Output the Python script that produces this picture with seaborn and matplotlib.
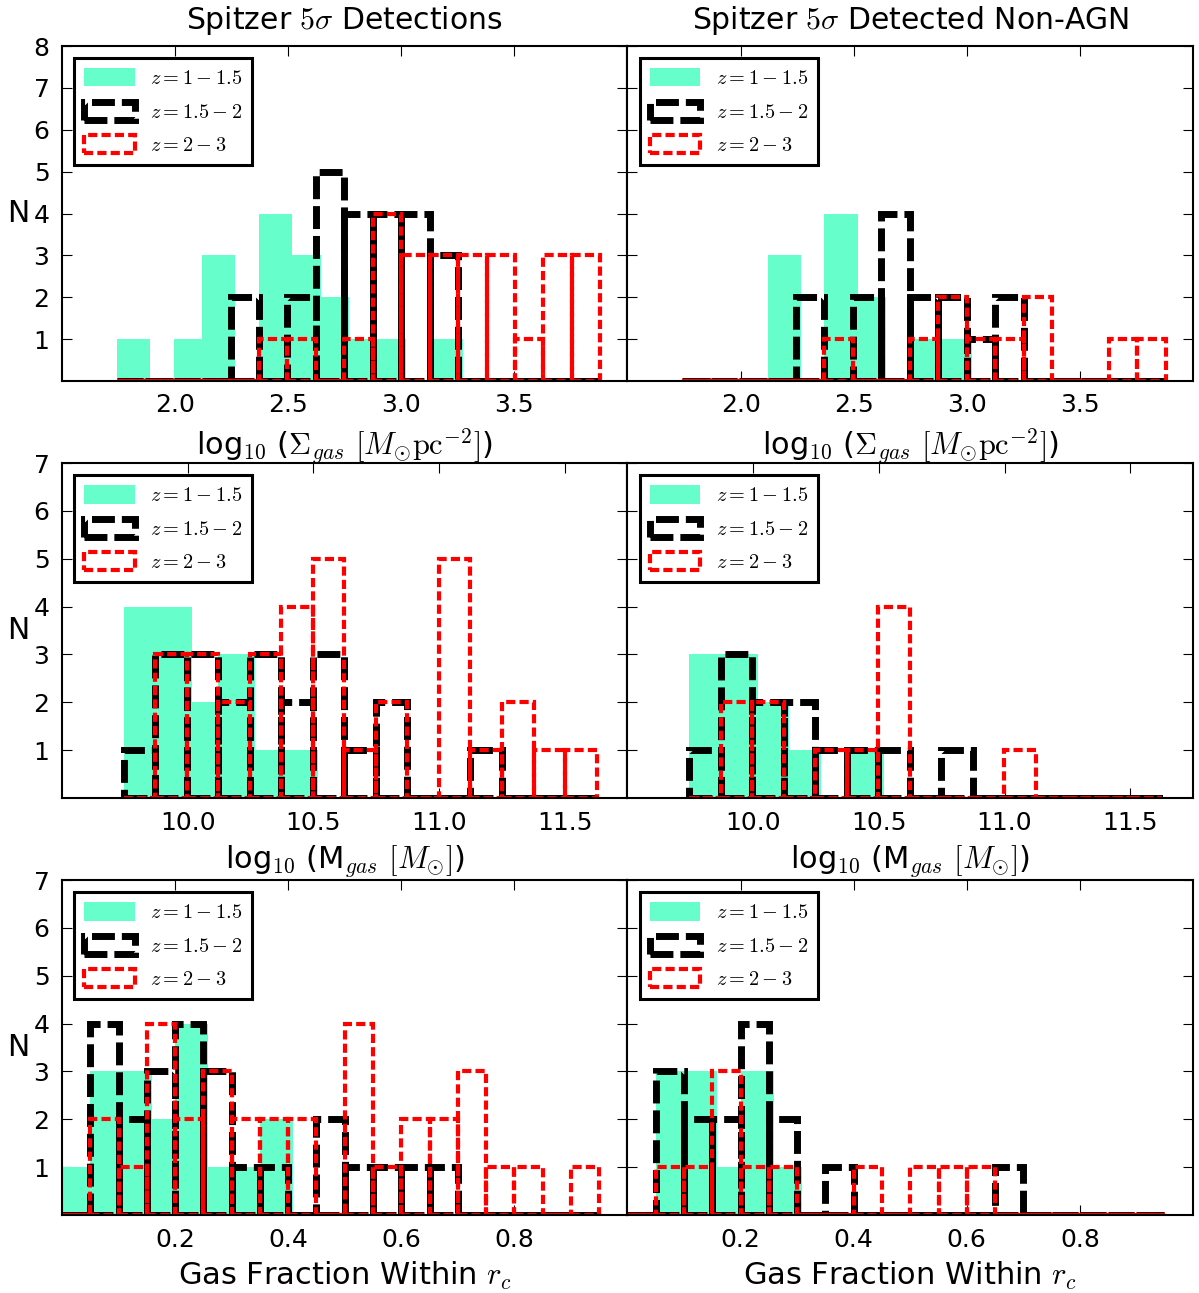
import numpy as np
import pandas as pd
import seaborn as sns
import matplotlib.pyplot as plt

# legend labels
z_labels = ["$z=1-1.5$", "$z=1.5-2$", "$z=2-3$"]

# bin edges
sig_edges = np.linspace(1.742, 3.88, 18)
mgas_edges = np.linspace(9.745, 11.627, 16)
frac_edges = np.linspace(0.0, 0.95, 20)

# counts per bin, log10 Sigma_gas
sig_all_z1 = [1, 0, 1, 3, 0, 4, 3, 2, 1, 1, 0, 1, 0, 0, 0, 0, 0]
sig_all_z2 = [0, 0, 0, 0, 2, 0, 2, 5, 4, 4, 4, 3, 0, 0, 0, 0, 0]
sig_all_z3 = [0, 0, 0, 0, 0, 1, 1, 0, 1, 4, 3, 3, 3, 3, 1, 3, 3]
sig_nonagn_z1 = [0, 0, 0, 3, 0, 4, 2, 0, 1, 1, 0, 0, 0, 0, 0, 0, 0]
sig_nonagn_z2 = [0, 0, 0, 0, 2, 0, 2, 4, 2, 2, 1, 2, 0, 0, 0, 0, 0]
sig_nonagn_z3 = [0, 0, 0, 0, 0, 1, 0, 0, 1, 2, 1, 1, 2, 0, 0, 1, 1]

# counts per bin, log10 M_gas
mgas_all_z1 = [4, 4, 2, 3, 1, 1, 0, 0, 0, 0, 0, 0, 0, 0, 0]
mgas_all_z2 = [1, 3, 3, 2, 3, 2, 3, 1, 2, 0, 0, 1, 0, 0, 0]
mgas_all_z3 = [0, 3, 3, 2, 3, 4, 5, 1, 2, 0, 5, 1, 2, 1, 1]
mgas_nonagn_z1 = [3, 3, 2, 1, 0, 1, 0, 0, 0, 0, 0, 0, 0, 0, 0]
mgas_nonagn_z2 = [1, 3, 2, 2, 1, 1, 1, 0, 1, 0, 0, 0, 0, 0, 0]
mgas_nonagn_z3 = [0, 2, 2, 0, 1, 1, 4, 0, 0, 0, 1, 0, 0, 0, 0]

# counts per bin, gas fraction within r_c
frac_all_z1 = [1, 3, 3, 2, 4, 1, 1, 2, 0, 0, 0, 0, 0, 0, 0, 0, 0, 0, 0]
frac_all_z2 = [0, 4, 2, 3, 4, 3, 1, 1, 0, 2, 1, 1, 1, 1, 0, 0, 0, 0, 0]
frac_all_z3 = [0, 2, 1, 4, 2, 3, 2, 2, 2, 0, 4, 1, 2, 2, 3, 1, 1, 0, 1]
frac_nonagn_z1 = [0, 3, 3, 1, 3, 1, 0, 0, 0, 0, 0, 0, 0, 0, 0, 0, 0, 0, 0]
frac_nonagn_z2 = [0, 3, 2, 2, 4, 2, 0, 1, 0, 0, 0, 0, 0, 1, 0, 0, 0, 0, 0]
frac_nonagn_z3 = [0, 1, 1, 3, 1, 1, 0, 0, 1, 0, 1, 1, 1, 0, 0, 0, 0, 0, 0]

titles = ["Spitzer $5\\sigma$ Detections", "Spitzer $5\\sigma$ Detected Non-AGN"]
xlabels = ["log$_{10}$ ($\\Sigma_{gas}$ $[M_{\\odot}{\\rm pc}^{-2}]$)",
           "log$_{10}$ (M$_{gas}$ $[M_{\\odot}]$)",
           "Gas Fraction Within $r_c$"]

sns.set_theme(style="white")
plt.rcParams["font.family"] = ["DejaVu Sans"]
plt.rcParams.update({
    "mathtext.fontset": "cm",
    "text.color": "black",
    "axes.labelcolor": "black",
    "axes.edgecolor": "black",
    "axes.linewidth": 1.5,
    "xtick.direction": "in",
    "ytick.direction": "in",
    "xtick.top": True,
    "ytick.right": True,
    "xtick.bottom": True,
    "ytick.left": True,
    "xtick.major.size": 7,
    "ytick.major.size": 7,
    "xtick.major.width": 0.8,
    "ytick.major.width": 0.8,
    "xtick.color": "black",
    "ytick.color": "black",
    "xtick.labelcolor": "black",
    "ytick.labelcolor": "black",
    "xtick.labelsize": 18,
    "ytick.labelsize": 18,
    "xtick.major.pad": 9,
    "ytick.major.pad": 9,
})

fill_color = "#66FFCC"
fill_stretch = 1.17   # filled bars are drawn a bit wider than their bin
black_ls = (0, (3.3, 1.0))
red_ls = (0, (2.2, 1.0))

rows = [
    (sig_edges, [(sig_all_z1, sig_all_z2, sig_all_z3), (sig_nonagn_z1, sig_nonagn_z2, sig_nonagn_z3)],
     (1.5, 4.0), [2.0, 2.5, 3.0, 3.5], 8),
    (mgas_edges, [(mgas_all_z1, mgas_all_z2, mgas_all_z3), (mgas_nonagn_z1, mgas_nonagn_z2, mgas_nonagn_z3)],
     (9.5, 11.75), [10.0, 10.5, 11.0, 11.5], 7),
    (frac_edges, [(frac_all_z1, frac_all_z2, frac_all_z3), (frac_nonagn_z1, frac_nonagn_z2, frac_nonagn_z3)],
     (0.0, 1.0), [0.2, 0.4, 0.6, 0.8], 7),
]

fig, axes = plt.subplots(3, 2, figsize=(11.99, 12.93), dpi=100)
fig.subplots_adjust(left=0.0517, right=0.995, top=0.9644, bottom=0.0603, wspace=0, hspace=0.245)

for r, (edges, panels, xlim, xticks, ymax) in enumerate(rows):
    centers = (edges[:-1] + edges[1:]) / 2
    bins = list(edges)
    for c, (n1, n2, n3) in enumerate(panels):
        ax = axes[r, c]
        df = pd.DataFrame({"x": centers, "n1": n1, "n2": n2, "n3": n3})
        sns.histplot(data=df, x="x", weights="n1", bins=bins, ax=ax, element="bars", fill=True,
                     color=fill_color, alpha=1, edgecolor="none", linewidth=0, label=z_labels[0])
        for bar in ax.containers[-1]:
            bar.set_width(bar.get_width() * fill_stretch)
        sns.histplot(data=df, x="x", weights="n2", bins=bins, ax=ax, element="bars", fill=False,
                     color="black", linewidth=5, linestyle=black_ls, label=z_labels[1])
        sns.histplot(data=df, x="x", weights="n3", bins=bins, ax=ax, element="bars", fill=False,
                     color="red", linewidth=3, linestyle=red_ls, label=z_labels[2])
        ax.set_xlim(*xlim)
        ax.set_ylim(0, ymax)
        ax.set_xticks(xticks)
        ax.set_xticklabels(["%.1f" % t for t in xticks])
        ax.set_yticks(range(1, ymax + 1))
        ax.set_xlabel(xlabels[r], fontsize=22, labelpad=6)
        if c == 0:
            ax.set_ylabel("N", fontsize=21.5, rotation=0, labelpad=11, va="center")
        else:
            ax.set_ylabel("")
            ax.tick_params(labelleft=False)
        if r == 0:
            ax.set_title(titles[c], fontsize=21.5, pad=12)
        leg = ax.legend(loc="upper left", fontsize=14.6, handlelength=2.5, handleheight=1.0,
                        handletextpad=0.75, labelspacing=0.66, borderpad=0.5, borderaxespad=0.6,
                        fancybox=False, framealpha=1, edgecolor="black")
        leg.get_frame().set_linewidth(2.2)

fig.savefig("out.png", dpi=100)
